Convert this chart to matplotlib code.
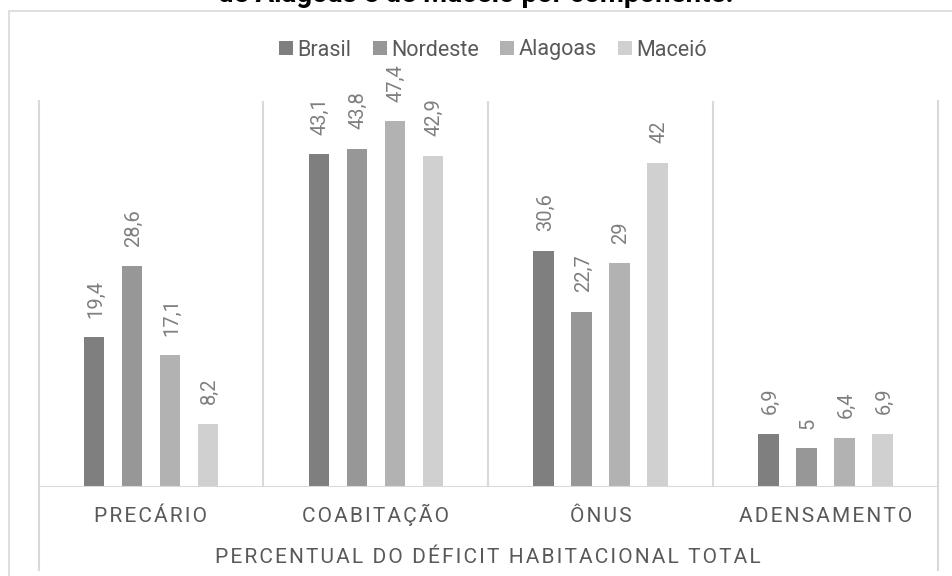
import matplotlib
matplotlib.use("Agg")
import matplotlib.pyplot as plt
from matplotlib.patches import Rectangle
import numpy as np

plt.rcParams['font.family'] = ['Roboto', 'DejaVu Sans']

# data
categories = ["PRECÁRIO", "COABITAÇÃO", "ÔNUS", "ADENSAMENTO"]
series_names = ["Brasil", "Nordeste", "Alagoas", "Maceió"]
brasil = [19.4, 43.1, 30.6, 6.9]
nordeste = [28.6, 43.8, 22.7, 5.0]
alagoas = [17.1, 47.4, 29.0, 6.4]
maceio = [8.2, 42.9, 42.0, 6.9]
axis_title = "PERCENTUAL DO DÉFICIT HABITACIONAL TOTAL"
chart_title = "de Alagoas e de Maceió por componente."

series_values = [brasil, nordeste, alagoas, maceio]
colors = ["#7f7f7f", "#979797", "#b2b2b2", "#d0d0d0"]
grid_color = "#d9d9d9"
label_color = "#7f7f7f"
text_color = "#595959"


def spaced(s):
    # fake letter spacing with hair spaces
    return "\u200a".join(list(s))


def fmt(v):
    s = ("%.1f" % v).replace(".", ",")
    if s.endswith(",0"):
        s = s[:-2]
    return s


W, H = 952, 576
fig = plt.figure(figsize=(W / 100, H / 100), dpi=100)

# outer chart frame
fig.patches.append(Rectangle((9 / W, -0.1), 1.2, 1.1 - 10.5 / H, transform=fig.transFigure,
                             fill=False, edgecolor=grid_color, linewidth=1.2))

ax = fig.add_axes([38.5 / W, 1 - 487 / H, (938 - 38.5) / W, (487 - 101) / H])
x = np.arange(len(categories))
step = 0.169
width = 0.091
for i, (name, vals) in enumerate(zip(series_names, series_values)):
    pos = x + (i - 1.5) * step
    bars = ax.bar(pos, vals, width=width, color=colors[i], label=name, zorder=3)
    for b, v in zip(bars, vals):
        ax.annotate(fmt(v), (b.get_x() + b.get_width() / 2, v), xytext=(1, 14),
                    textcoords="offset points", rotation=90, ha="center", va="bottom",
                    fontsize=14.5, color=label_color)

ax.set_xlim(-0.5, len(categories) - 0.5)
ax.set_ylim(0, 50)
for s in ax.spines.values():
    s.set_visible(False)
ax.set_xticks([])
ax.set_yticks([])

# category separators
for b in np.arange(0.5, len(categories) - 0.5, 1):
    ax.axvline(b, color=grid_color, linewidth=1.5, zorder=1)
below = (570 - 487) / (487 - 101)
for b in [-0.5, len(categories) - 0.5]:
    ax.axvline(b, ymin=-below, ymax=1, color=grid_color, linewidth=1.5, clip_on=False, zorder=1)
ax.axhline(0, color=grid_color, linewidth=1.5, zorder=4)

tr = ax.get_xaxis_transform()
for xi, c in zip(x, categories):
    ax.text(xi, -(522 - 487) / 386, spaced(c), transform=tr, ha="center", va="baseline",
            fontsize=15, color=text_color)
ax.text(0.5, -(563 - 487) / 386, spaced(axis_title), transform=ax.transAxes,
        ha="center", va="baseline", fontsize=15, color=text_color)

leg = fig.legend(loc="center", bbox_to_anchor=(493 / W, 1 - 50 / H), ncol=4, frameon=False,
                 handlelength=0.65, handleheight=0.65, handletextpad=0.2,
                 columnspacing=1.0, fontsize=15.5)
for t in leg.get_texts():
    t.set_color(text_color)

fig.text(0.5, 1 - 2.5 / H, chart_title, ha="center", va="baseline", fontsize=20,
         fontweight="bold", color="#000000")

fig.savefig("out.png", dpi=100)
